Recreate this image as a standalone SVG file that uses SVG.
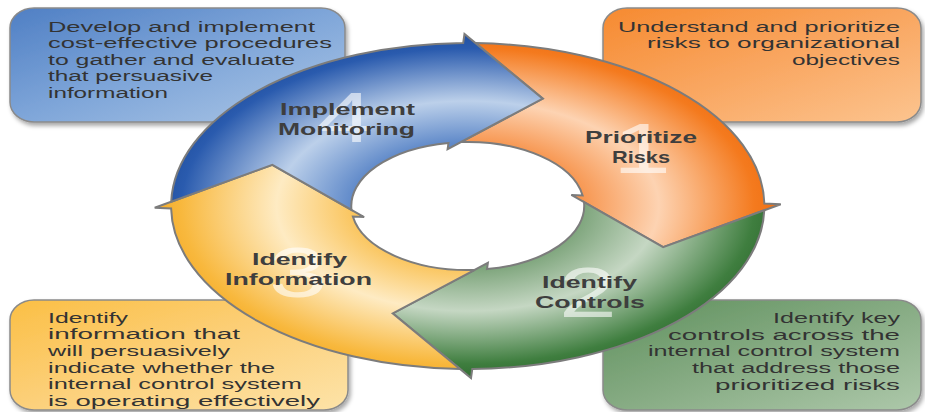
<svg xmlns="http://www.w3.org/2000/svg" width="925" height="412" viewBox="0 0 925 412">
<defs>
  <style>
    .box{stroke:#8a8a8a;stroke-width:1.5}
    .desc{font-family:"Liberation Sans",Arial,sans-serif;font-size:14px;fill:#333333}
    .lbl{font-family:"Liberation Sans",Arial,sans-serif;font-size:17px;font-weight:bold;fill:#3e3e3e}
    .num{font-family:"Liberation Sans",Arial,sans-serif;font-size:70px;fill:#ffffff;fill-opacity:0.6}
  </style>
  <filter id="shadow" x="-10%" y="-10%" width="120%" height="130%">
    <feDropShadow dx="2" dy="3" stdDeviation="2" flood-color="#000000" flood-opacity="0.35"/>
  </filter>
  <linearGradient id="bBlue" x1="0" y1="0" x2="1" y2="1">
    <stop offset="0" stop-color="#4f7fc4"/><stop offset="0.5" stop-color="#7fa6d9"/><stop offset="1" stop-color="#adc7e6"/>
  </linearGradient>
  <linearGradient id="bOrange" x1="0" y1="0" x2="1" y2="1">
    <stop offset="0" stop-color="#f68a30"/><stop offset="0.5" stop-color="#f9a660"/><stop offset="1" stop-color="#fcc48f"/>
  </linearGradient>
  <linearGradient id="bYellow" x1="0" y1="0" x2="1" y2="1">
    <stop offset="0" stop-color="#fbbf45"/><stop offset="0.5" stop-color="#fcd07a"/><stop offset="1" stop-color="#fde3a8"/>
  </linearGradient>
  <linearGradient id="bGreen" x1="0" y1="0" x2="1" y2="1">
    <stop offset="0" stop-color="#5e905c"/><stop offset="0.5" stop-color="#86ab83"/><stop offset="1" stop-color="#adc8aa"/>
  </linearGradient>
  <radialGradient id="gOrange" gradientUnits="userSpaceOnUse" cx="257" cy="206" r="175">
    <stop offset="0" stop-color="#f47a20"/><stop offset="0.36" stop-color="#f79650"/><stop offset="0.6" stop-color="#fdd3b2"/><stop offset="0.9" stop-color="#f47a1e"/><stop offset="1" stop-color="#ee6c10"/>
  </radialGradient>
  <radialGradient id="gGreen" gradientUnits="userSpaceOnUse" cx="257" cy="206" r="175">
    <stop offset="0" stop-color="#4a864a"/><stop offset="0.36" stop-color="#7ea57c"/><stop offset="0.6" stop-color="#c5d7c3"/><stop offset="0.9" stop-color="#3f7e3f"/><stop offset="1" stop-color="#2f6a2f"/>
  </radialGradient>
  <radialGradient id="gYellow" gradientUnits="userSpaceOnUse" cx="257" cy="206" r="175">
    <stop offset="0" stop-color="#f7b02f"/><stop offset="0.36" stop-color="#fac55e"/><stop offset="0.6" stop-color="#feebc3"/><stop offset="0.9" stop-color="#f8b83d"/><stop offset="1" stop-color="#f5aa25"/>
  </radialGradient>
  <radialGradient id="gBlue" gradientUnits="userSpaceOnUse" cx="257" cy="206" r="175">
    <stop offset="0" stop-color="#2d5fb0"/><stop offset="0.36" stop-color="#5f89c9"/><stop offset="0.6" stop-color="#bcd0ea"/><stop offset="0.9" stop-color="#2a5bae"/><stop offset="1" stop-color="#1f4d9c"/>
  </radialGradient>
  <path id="arrowShape" stroke="#7c7c7c" stroke-width="2" stroke-linejoin="miter" vector-effect="non-scaling-stroke"
        d="M261.27,43.06 A163,163 0 0 1 419.98,203.5 L429,204.2 L364.36,247.21 L313.93,194.93 L320.12,195.43 A64,64 0 0 0 253.14,142.12 L298.21,98.64 Z"/>
</defs>

<rect x="0" y="0" width="925" height="412" fill="#ffffff"/>

<!-- description boxes -->
<g id="box-implement-monitoring">
  <rect class="box" x="10" y="8" width="335" height="114" rx="24" ry="20" fill="url(#bBlue)" filter="url(#shadow)"/>
  <text class="desc" x="48" y="31.5" textLength="267" lengthAdjust="spacingAndGlyphs">Develop and implement</text>
  <text class="desc" x="48" y="48" textLength="284" lengthAdjust="spacingAndGlyphs">cost-effective procedures</text>
  <text class="desc" x="48" y="64.5" textLength="247" lengthAdjust="spacingAndGlyphs">to gather and evaluate</text>
  <text class="desc" x="48" y="81" textLength="165" lengthAdjust="spacingAndGlyphs">that persuasive</text>
  <text class="desc" x="48" y="97.5" textLength="120" lengthAdjust="spacingAndGlyphs">information</text>
</g>
<g id="box-prioritize-risks">
  <rect class="box" x="603" y="8" width="318" height="114" rx="24" ry="20" fill="url(#bOrange)" filter="url(#shadow)"/>
  <text class="desc" x="618" y="31.5" textLength="282" lengthAdjust="spacingAndGlyphs">Understand and prioritize</text>
  <text class="desc" x="647" y="48" textLength="253" lengthAdjust="spacingAndGlyphs">risks to organizational</text>
  <text class="desc" x="792" y="64.5" textLength="108" lengthAdjust="spacingAndGlyphs">objectives</text>
</g>
<g id="box-identify-information">
  <rect class="box" x="10" y="300" width="338" height="110" rx="24" ry="20" fill="url(#bYellow)" filter="url(#shadow)"/>
  <text class="desc" x="48" y="322.5" textLength="80" lengthAdjust="spacingAndGlyphs">Identify</text>
  <text class="desc" x="48" y="339.2" textLength="192" lengthAdjust="spacingAndGlyphs">information that</text>
  <text class="desc" x="48" y="355.9" textLength="182" lengthAdjust="spacingAndGlyphs">will persuasively</text>
  <text class="desc" x="48" y="372.6" textLength="227" lengthAdjust="spacingAndGlyphs">indicate whether the</text>
  <text class="desc" x="48" y="389.3" textLength="254" lengthAdjust="spacingAndGlyphs">internal control system</text>
  <text class="desc" x="48" y="406" textLength="272" lengthAdjust="spacingAndGlyphs">is operating effectively</text>
</g>
<g id="box-identify-controls">
  <rect class="box" x="603" y="300" width="318" height="110" rx="24" ry="20" fill="url(#bGreen)" filter="url(#shadow)"/>
  <text class="desc" x="773" y="323" textLength="127" lengthAdjust="spacingAndGlyphs">Identify key</text>
  <text class="desc" x="668" y="339.7" textLength="232" lengthAdjust="spacingAndGlyphs">controls across the</text>
  <text class="desc" x="648" y="356.4" textLength="252" lengthAdjust="spacingAndGlyphs">internal control system</text>
  <text class="desc" x="692" y="373.1" textLength="208" lengthAdjust="spacingAndGlyphs">that address those</text>
  <text class="desc" x="715" y="389.8" textLength="185" lengthAdjust="spacingAndGlyphs">prioritized risks</text>
</g>

<!-- cycle steps (each arrow is a step node) -->
<g id="step1-prioritize-risks">
  <use href="#arrowShape" fill="url(#gOrange)" transform="scale(1.82 1)"/>
  <text class="num" text-anchor="middle" transform="translate(642 173) scale(1.5 1)">1</text>
  <text class="lbl" x="585" y="143" textLength="112" lengthAdjust="spacingAndGlyphs">Prioritize</text>
  <text class="lbl" x="612" y="163" textLength="58" lengthAdjust="spacingAndGlyphs">Risks</text>
</g>
<g id="step2-identify-controls">
  <use href="#arrowShape" fill="url(#gGreen)" transform="scale(1.82 1) rotate(90 257 206)"/>
  <text class="num" text-anchor="middle" transform="translate(588 317) scale(1.5 1)">2</text>
  <text class="lbl" x="542" y="288" textLength="95" lengthAdjust="spacingAndGlyphs">Identify</text>
  <text class="lbl" x="535" y="308" textLength="110" lengthAdjust="spacingAndGlyphs">Controls</text>
</g>
<g id="step3-identify-information">
  <use href="#arrowShape" fill="url(#gYellow)" transform="scale(1.82 1) rotate(180 257 206)"/>
  <text class="num" text-anchor="middle" transform="translate(298 297) scale(1.5 1)">3</text>
  <text class="lbl" x="252" y="265" textLength="95" lengthAdjust="spacingAndGlyphs">Identify</text>
  <text class="lbl" x="225" y="285" textLength="147" lengthAdjust="spacingAndGlyphs">Information</text>
</g>
<g id="step4-implement-monitoring">
  <use href="#arrowShape" fill="url(#gBlue)" transform="scale(1.82 1) rotate(270 257 206)"/>
  <text class="num" text-anchor="middle" transform="translate(345 142) scale(1.5 1)">4</text>
  <text class="lbl" x="280" y="115" textLength="135" lengthAdjust="spacingAndGlyphs">Implement</text>
  <text class="lbl" x="278" y="135" textLength="137" lengthAdjust="spacingAndGlyphs">Monitoring</text>
</g>
</svg>
